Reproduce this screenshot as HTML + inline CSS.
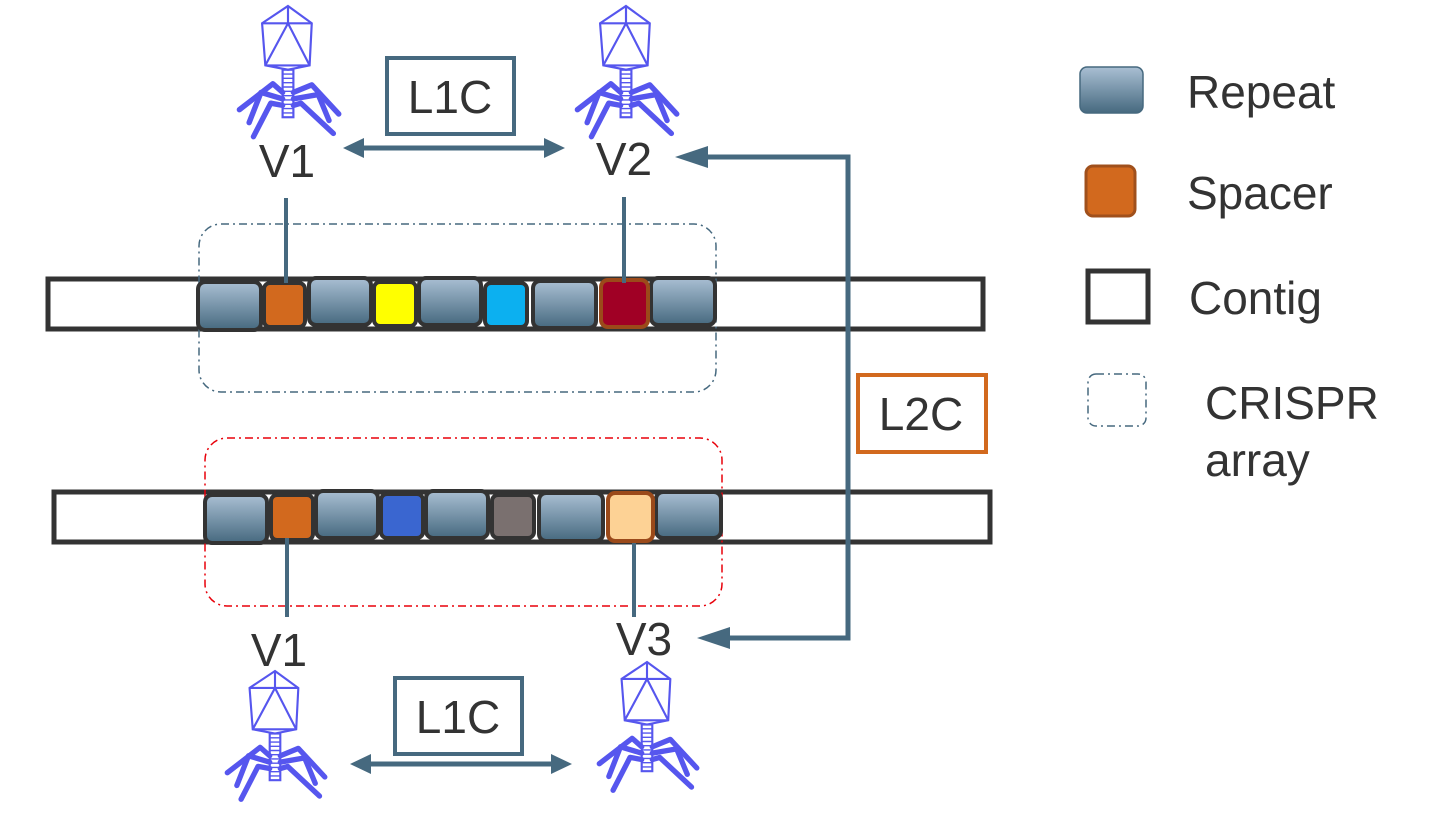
<!DOCTYPE html>
<html><head><meta charset="utf-8"><style>
html,body{margin:0;padding:0;background:#fff}
svg{display:block}
text{font-family:"Liberation Sans",sans-serif;fill:#333}
</style></head><body>
<svg width="1445" height="825" viewBox="0 0 1445 825" xmlns="http://www.w3.org/2000/svg">
<defs>
<linearGradient id="rg" x1="0" y1="0" x2="0" y2="1">
<stop offset="0" stop-color="#a9bfd3"/><stop offset="1" stop-color="#46697f"/>
</linearGradient>
<g id="phage" fill="none" stroke="#5656ee" stroke-width="2">
<polygon points="0,0 22,16 20,55 0,59 -21,55 -24,16"/>
<line x1="-24" y1="16" x2="22" y2="16"/>
<polyline points="-21,55 0,16 20,55"/>
<line x1="-21" y1="55" x2="20" y2="55"/>
<line x1="0" y1="0" x2="0" y2="16"/>
<rect x="-5" y="59" width="10" height="44"/>
<path d="M-5,63h10M-5,67h10M-5,71h10M-5,75h10M-5,79h10M-5,83h10M-5,87h10M-5,91h10M-5,95h10M-5,99h10" stroke-width="1.3"/>
<g stroke-width="5" stroke-linejoin="round" stroke-linecap="round">
<polyline points="-5,80 -14,72 -45,96"/>
<polyline points="-5,86 -25,80 -36,108"/>
<polyline points="-5,92 -16,90 -32,121"/>
<polyline points="5,80 22,73 47,100"/>
<polyline points="5,86 28,82 38,106"/>
<polyline points="5,92 12,90 42,118"/>
</g>
</g>
</defs>

<!-- phages -->
<use href="#phage" transform="translate(288,6) scale(1.08)"/>
<use href="#phage" transform="translate(626,6) scale(1.08)"/>
<use href="#phage" transform="translate(275,671) scale(1.06)"/>
<use href="#phage" transform="translate(647,662) scale(1.06)"/>

<!-- labels V -->
<g font-size="46" text-anchor="middle">
<text x="287" y="177">V1</text>
<text x="624" y="175">V2</text>
<text x="279" y="666">V1</text>
<text x="644" y="655">V3</text>
</g>

<!-- L1C / L2C boxes -->
<rect x="387" y="58" width="127" height="76" fill="#fff" stroke="#46697f" stroke-width="4"/>
<text x="450" y="113" font-size="46" text-anchor="middle">L1C</text>
<rect x="395" y="678" width="127" height="76" fill="#fff" stroke="#46697f" stroke-width="4"/>
<text x="458" y="733" font-size="46" text-anchor="middle">L1C</text>
<rect x="858" y="375" width="128" height="77" fill="#fff" stroke="#d2691e" stroke-width="4"/>
<text x="921" y="430" font-size="46" text-anchor="middle">L2C</text>

<!-- contig 1 -->
<rect x="48" y="279" width="935" height="50" fill="#fff" stroke="#333" stroke-width="5"/>
<rect x="199" y="224" width="517" height="168" rx="22" fill="none" stroke="#46697f" stroke-width="1.5" stroke-dasharray="8,4,2,4"/>
<g stroke="#333" stroke-width="4">
<rect x="198" y="282" width="63" height="48" rx="7" fill="url(#rg)"/>
<rect x="264" y="283" width="41" height="44" rx="6" fill="#d2691e"/>
<rect x="309" y="278" width="62" height="47" rx="7" fill="url(#rg)"/>
<rect x="374" y="282" width="42" height="44" rx="6" fill="#ffff00"/>
<rect x="419" y="278" width="62" height="47" rx="7" fill="url(#rg)"/>
<rect x="485" y="283" width="42" height="44" rx="6" fill="#0cb0f0"/>
<rect x="533" y="281" width="63" height="47" rx="7" fill="url(#rg)"/>
<rect x="651" y="278" width="64" height="47" rx="7" fill="url(#rg)"/>
</g>
<rect x="601" y="280" width="47" height="47" rx="7" fill="#a00025" stroke="#9b4a1a" stroke-width="4"/>

<!-- contig 2 -->
<rect x="54" y="492" width="936" height="50" fill="#fff" stroke="#333" stroke-width="5"/>
<rect x="205" y="438" width="517" height="168" rx="22" fill="none" stroke="#e8000a" stroke-width="1.5" stroke-dasharray="8,4,2,4"/>
<g stroke="#333" stroke-width="4">
<rect x="205" y="495" width="62" height="48" rx="7" fill="url(#rg)"/>
<rect x="271" y="495" width="42" height="45" rx="6" fill="#d2691e"/>
<rect x="316" y="491" width="62" height="47" rx="7" fill="url(#rg)"/>
<rect x="381" y="494" width="42" height="44" rx="6" fill="#3a66d0"/>
<rect x="426" y="491" width="62" height="47" rx="7" fill="url(#rg)"/>
<rect x="492" y="495" width="42" height="43" rx="6" fill="#7a706f"/>
<rect x="539" y="493" width="64" height="48" rx="7" fill="url(#rg)"/>
<rect x="656" y="492" width="65" height="46" rx="7" fill="url(#rg)"/>
</g>
<rect x="608" y="493" width="45" height="48" rx="7" fill="#fdd295" stroke="#9b4a1a" stroke-width="4"/>

<!-- connectors (on top) -->
<g stroke="#46697f" stroke-width="4" fill="none">
<line x1="286" y1="198" x2="286" y2="283"/>
<line x1="624" y1="197" x2="624" y2="283"/>
<line x1="287" y1="538" x2="287" y2="617"/>
<line x1="634" y1="543" x2="634" y2="617"/>
<line x1="356" y1="148" x2="552" y2="148" stroke-width="5"/>
<line x1="363" y1="764" x2="559" y2="764" stroke-width="5"/>
<polyline points="700,157 848,157 848,638 720,638" stroke-width="5"/>
</g>
<g fill="#46697f">
<path d="M343,148 L364,138 L364,158 z"/>
<path d="M565,148 L544,138 L544,158 z"/>
<path d="M350,764 L371,754 L371,774 z"/>
<path d="M572,764 L551,754 L551,774 z"/>
<path d="M675,157 L708,146 L708,168 z"/>
<path d="M697,638 L730,627 L730,649 z"/>
</g>

<!-- legend -->
<rect x="1080" y="67" width="63" height="46" rx="7" fill="url(#rg)" stroke="#46697f" stroke-width="1.5"/>
<text x="1187" y="108" font-size="46">Repeat</text>
<rect x="1086" y="166" width="49" height="50" rx="7" fill="#d2691e" stroke="#a0501c" stroke-width="3"/>
<text x="1187" y="209" font-size="46">Spacer</text>
<rect x="1088" y="271" width="60" height="51" fill="#fff" stroke="#333" stroke-width="5"/>
<text x="1189" y="314" font-size="46">Contig</text>
<rect x="1088" y="374" width="58" height="52" rx="8" fill="none" stroke="#46697f" stroke-width="1.5" stroke-dasharray="8,4,2,4"/>
<text x="1205" y="419" font-size="46">CRISPR</text>
<text x="1205" y="476" font-size="46">array</text>
</svg>
</body></html>
